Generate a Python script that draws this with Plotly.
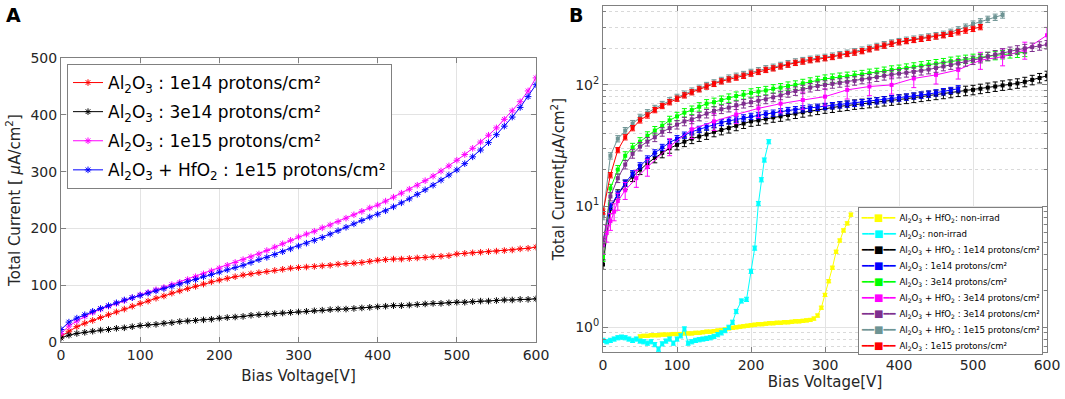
import plotly.graph_objects as go

# ---------------- Panel A data (linear) ----------------
va = list(range(0, 601, 10))
a_red = [10, 19, 27, 33, 38, 43, 48, 53, 58, 63, 68, 72, 77, 81, 86, 90, 94, 98, 102, 106,
         109, 112, 115, 118, 120, 122, 124, 126, 128, 130, 131, 132, 133, 134, 135, 137, 138, 139, 140, 142,
         144, 145, 146, 146, 147, 148, 149, 150, 151, 152, 155, 156, 157, 158, 159, 160, 161, 162, 164, 165, 167]
a_black = [7, 12, 15, 17, 19, 21, 22, 24, 25, 27, 29, 30, 31, 33, 34, 36, 37, 38, 39, 40,
           42, 43, 44, 45, 47, 48, 49, 50, 51, 52, 53, 54, 55, 56, 57, 58, 58, 59, 60, 61,
           62, 63, 64, 64, 65, 66, 67, 68, 68, 69, 70, 70, 71, 72, 72, 73, 74, 74, 75, 75, 76]
a_pink = [15, 28, 37, 45, 52, 58, 63, 68, 73, 78, 83, 87, 92, 96, 101, 105, 110, 115, 120, 125,
          130, 135, 140, 145, 150, 155, 161, 167, 173, 179, 185, 190, 195, 201, 206, 212, 218, 224, 230, 236,
          241, 248, 255, 262, 269, 276, 284, 292, 301, 310, 320, 330, 341, 352, 364, 377, 392, 407, 423, 442, 465]
a_blue = [22, 35, 42, 48, 54, 59, 64, 69, 74, 78, 82, 86, 90, 94, 98, 102, 106, 110, 115, 119,
          123, 127, 131, 135, 140, 145, 149, 154, 159, 164, 169, 174, 179, 184, 190, 196, 202, 208, 214, 220,
          225, 231, 238, 245, 252, 260, 268, 276, 285, 294, 303, 314, 326, 338, 351, 365, 380, 396, 413, 432, 453]

# ---------------- Panel B data (log) ----------------
v_yellow = list(range(50, 336, 5))
b_yellow = [0.84, 0.85, 0.85, 0.86, 0.86, 0.86, 0.87, 0.87, 0.87, 0.88, 0.88, 0.88, 0.89, 0.89, 0.89,
            0.90, 0.90, 0.91, 0.92, 0.92, 0.93, 0.94, 0.95, 0.96, 0.98, 0.99, 1.00, 1.01, 1.02, 1.03,
            1.04, 1.05, 1.06, 1.06, 1.07, 1.08, 1.08, 1.09, 1.09, 1.10, 1.10, 1.11, 1.12, 1.12, 1.13,
            1.14, 1.15, 1.18, 1.25, 1.45, 1.85, 2.4, 3.1, 4.2, 5.2, 6.3, 7.2, 8.5]

v_cyan = [0, 5, 10, 15, 20, 25, 30, 35, 40, 45, 50, 55, 60, 65, 70, 75, 80, 85, 90, 95, 100, 105, 110,
          115, 120, 125, 130, 135, 140, 145, 150, 155, 160, 165, 170, 175, 180, 187, 194, 200, 205, 210,
          214, 218, 224]
b_cyan = [0.78, 0.76, 0.78, 0.80, 0.82, 0.83, 0.82, 0.80, 0.78, 0.80, 0.77, 0.76, 0.74, 0.76, 0.72,
          0.66, 0.73, 0.77, 0.80, 0.74, 0.80, 0.85, 0.97, 0.74, 0.76, 0.78, 0.79, 0.80, 0.81, 0.82,
          0.84, 0.87, 0.90, 0.94, 1.0, 1.1, 1.35, 1.65, 1.7, 2.9, 4.5, 10.5, 16.5, 24, 34]

v_black = list(range(0, 601, 10))
b_black = [3.3, 9.5, 12.5, 15, 17.5, 20, 22.5, 25, 27.5, 30, 32, 34, 36, 37.5, 39, 41, 42.5, 44, 46, 48,
           50, 51, 52.5, 54, 55, 56.5, 58, 59.5, 61, 62.5, 64, 65, 66.5, 67.5, 69, 70, 71, 72, 73.5, 74.5,
           76, 77, 78.5, 80, 81.5, 83, 84.5, 86, 88, 89.5, 91, 93, 95, 97, 99, 101, 103, 106, 110, 114, 119]

v_blue = list(range(0, 481, 10))
b_blue = [5, 10, 12.5, 15.5, 18.5, 21.5, 24.5, 27.5, 30.5, 33.5, 36, 38.5, 41, 43, 45, 47, 49, 50.5,
          52, 53.5, 55, 56, 57.5, 58.5, 60, 61.5, 62.5, 63.5, 64.5, 65.5, 66.5, 67.5, 68.5, 69.5, 70.5,
          71.5, 73, 74, 75.5, 77, 78, 79.5, 81, 82.5, 84, 86, 88, 90, 93]

v_green = list(range(0, 571, 10))
b_green = [3.8, 14, 20, 26, 30.5, 34, 38, 42, 46, 51, 55, 59, 62, 66, 70, 72, 75, 78, 81, 83,
           86, 88, 90, 93, 95, 98, 100, 103, 106, 109, 112, 114, 116, 118, 120, 122, 125, 127, 130, 133,
           135, 138, 141, 144, 147, 150, 153, 157, 160, 163, 166, 169, 172, 175, 178, 181, 183, 186]

v_magenta = [0, 5, 10, 15, 20, 30, 45, 60, 90, 120, 150, 180, 210, 240, 270, 300, 330, 360, 390, 420,
             450, 480, 510, 540, 570, 600]
b_magenta = [4.8, 6.0, 7.5, 9, 11, 13.5, 17, 21, 31, 43, 50, 57, 64, 70, 75, 80, 91, 97, 100, 113,
             121, 133, 160, 171, 194, 257]

v_purple = list(range(0, 601, 10))
b_purple = [5, 12, 17, 22, 27, 31, 34, 37, 41, 44, 47, 50, 52, 55, 58, 61, 63, 65, 68, 70,
            72, 74, 76, 79, 82, 86, 89, 92, 95, 98, 100, 102, 104, 106, 108, 111, 113, 116, 119, 122,
            124, 126, 128, 131, 134, 138, 142, 146, 150, 155, 160, 165, 172, 178, 184, 190, 195, 200, 205, 210, 215]

v_gray = list(range(0, 541, 10))
b_gray = [8.2, 26, 36, 42, 48, 54, 59, 64, 69, 74, 79, 84, 89, 94, 99, 104, 109, 114, 118, 122,
          127, 131, 136, 140, 145, 150, 155, 159, 163, 166, 169, 173, 178, 183, 188, 194, 201, 208, 215, 222,
          228, 234, 239, 244, 249, 255, 262, 272, 285, 300, 318, 332, 348, 362, 378]

v_red = list(range(0, 511, 10))
b_red = [9, 18, 29, 37, 44, 51, 56, 62, 67, 72, 77, 82, 87, 92, 97, 102, 107, 111, 115, 119,
         124, 128, 133, 137, 142, 147, 152, 156, 160, 163, 166, 170, 175, 180, 185, 190, 197, 204, 211, 219,
         225, 230, 235, 240, 245, 251, 257, 264, 272, 281, 290, 300]

# relative uncertainty (%) per series in panel B
err_pct = {"yellow": 3, "cyan": 4, "black": 9, "blue": 6, "green": 8, "magenta": 16,
           "purple": 8, "gray": 6, "red": 5}

FONT = "DejaVu Sans"
TXT = "#262626"
AX = "#808080"
GRID = "#e3e3e3"

fig = go.Figure()

# ---------- Panel A traces ----------
series_a = [
    ("Al<sub>2</sub>O<sub>3</sub> : 1e14 protons/cm²", a_red, "#FF0000"),
    ("Al<sub>2</sub>O<sub>3</sub> : 3e14 protons/cm²", a_black, "#000000"),
    ("Al<sub>2</sub>O<sub>3</sub> : 1e15 protons/cm²", a_pink, "#FF00FF"),
    ("Al<sub>2</sub>O<sub>3</sub> + HfO<sub>2</sub> : 1e15 protons/cm²", a_blue, "#0000FF"),
]
for i, (name, ys, col) in enumerate(series_a):
    fig.add_trace(go.Scatter(
        x=va, y=ys, name=name, mode="lines+markers",
        line=dict(color=col, width=1),
        marker=dict(symbol="asterisk-open", size=5.5, color=col, line=dict(color=col, width=1)),
        xaxis="x", yaxis="y", legend="legend", legendgroup="a%d" % i))

# ---------- Panel B traces ----------
series_b = [
    ("Al<sub>2</sub>O<sub>3</sub> + HfO<sub>2</sub>: non-irrad", v_yellow, b_yellow, "#FFFF00", "yellow"),
    ("Al<sub>2</sub>O<sub>3</sub>: non-irrad", v_cyan, b_cyan, "#00FFFF", "cyan"),
    ("Al<sub>2</sub>O<sub>3</sub> + HfO<sub>2</sub> : 1e14 protons/cm²", v_black, b_black, "#000000", "black"),
    ("Al<sub>2</sub>O<sub>3</sub> : 1e14 protons/cm²", v_blue, b_blue, "#0000FF", "blue"),
    ("Al<sub>2</sub>O<sub>3</sub> : 3e14 protons/cm²", v_green, b_green, "#00FF00", "green"),
    ("Al<sub>2</sub>O<sub>3</sub> + HfO<sub>2</sub> : 3e14 protons/cm²", v_magenta, b_magenta, "#FF00FF", "magenta"),
    ("Al<sub>2</sub>O<sub>3</sub> + HfO<sub>2</sub> : 3e14 protons/cm²", v_purple, b_purple, "#7E2F8E", "purple"),
    ("Al<sub>2</sub>O<sub>3</sub> + HfO<sub>2</sub> : 1e15 protons/cm²", v_gray, b_gray, "#6E9494", "gray"),
    ("Al<sub>2</sub>O<sub>3</sub> : 1e15 protons/cm²", v_red, b_red, "#FF0000", "red"),
]
legend_lines = []
for name, xs, ys, col, key in series_b:
    fig.add_trace(go.Scatter(
        x=xs, y=ys, name=name, mode="lines+markers",
        line=dict(color=col, width=1),
        marker=dict(symbol="square", size=4, color=col),
        error_y=dict(type="percent", value=err_pct[key], color=col, thickness=1, width=2.5),
        xaxis="x2", yaxis="y2", showlegend=False))
    legend_lines.append(
        "<span style='color:%s;font-size:10px'>━━■━━</span> "
        "<span style='font-size:8.6px'>%s</span>" % (col, name))

W, H = 1065, 399
def px(x):
    return x / W
def py(y):
    return (H - y) / H

axis_common = dict(
    showline=True, linecolor=AX, linewidth=1, mirror="ticks",
    ticks="inside", ticklen=5, tickcolor=AX, automargin=False,
    showgrid=True, gridcolor=GRID, gridwidth=1, zeroline=False,
    tickfont=dict(family=FONT, size=14, color=TXT),
)

fig.update_layout(
    template="none",
    width=W, height=H,
    margin=dict(l=0, r=0, t=0, b=0),
    paper_bgcolor="white", plot_bgcolor="white",
    font=dict(family=FONT, color=TXT),
    xaxis=dict(domain=[px(61), px(536)], range=[0, 600], dtick=100, anchor="y",
               title=dict(text="Bias Voltage[V]", font=dict(family=FONT, size=15, color=TXT), standoff=8),
               **axis_common),
    yaxis=dict(domain=[py(342), py(58)], range=[0, 500], dtick=100, anchor="x",
               title=dict(text="Total Current [ <i>μ</i>A/cm<sup>2</sup>]", font=dict(family=FONT, size=15, color=TXT), standoff=6),
               **axis_common),
    xaxis2=dict(domain=[px(603), px(1047)], range=[0, 600], dtick=100, anchor="y2",
                title=dict(text="Bias Voltage[V]", font=dict(family=FONT, size=15, color=TXT), standoff=4),
                **axis_common),
    yaxis2=dict(domain=[py(352), py(6)], type="log", range=[-0.204, 2.651], anchor="x2",
                tickmode="array", tickvals=[1, 10, 100],
                ticktext=["10<sup>0</sup>", "10<sup>1</sup>", "10<sup>2</sup>"],
                minor=dict(tickmode="array",
                           tickvals=[0.7, 0.8, 0.9, 2, 3, 4, 5, 6, 7, 8, 9, 20, 30, 40, 50, 60, 70, 80, 90, 200, 300, 400],
                           ticks="inside", ticklen=3, tickcolor=AX,
                           showgrid=True, gridcolor="#d9d9d9", griddash="dot"),
                title=dict(text="Total Current[<i>μ</i>A/cm<sup>2</sup>]", font=dict(family=FONT, size=15, color=TXT), standoff=6),
                **axis_common),
    showlegend=True,
    legend=dict(x=px(67), y=py(64), xanchor="left", yanchor="top",
                bgcolor="white", bordercolor=AX, borderwidth=1,
                font=dict(family=FONT, size=17, color="#000000"), tracegroupgap=4,
                itemwidth=30),
    annotations=[
        dict(text="<b>A</b>", x=px(4), y=py(2), xref="paper", yref="paper", xanchor="left", yanchor="top",
             showarrow=False, font=dict(family=FONT, size=19, color="#000000")),
        dict(text="<b>B</b>", x=px(567), y=py(2), xref="paper", yref="paper", xanchor="left", yanchor="top",
             showarrow=False, font=dict(family=FONT, size=19, color="#000000")),
        dict(text="<br>".join(legend_lines), x=px(858), y=py(207), xref="paper", yref="paper",
             xanchor="left", yanchor="top", align="left", showarrow=False,
             bgcolor="white", bordercolor=AX, borderwidth=1, borderpad=2,
             font=dict(family=FONT, size=12.3, color="#000000")),
    ],
)

fig.write_html("out.html", config={"displayModeBar": False},
               post_script="document.body.style.margin='0px';document.body.style.overflow='hidden';")
